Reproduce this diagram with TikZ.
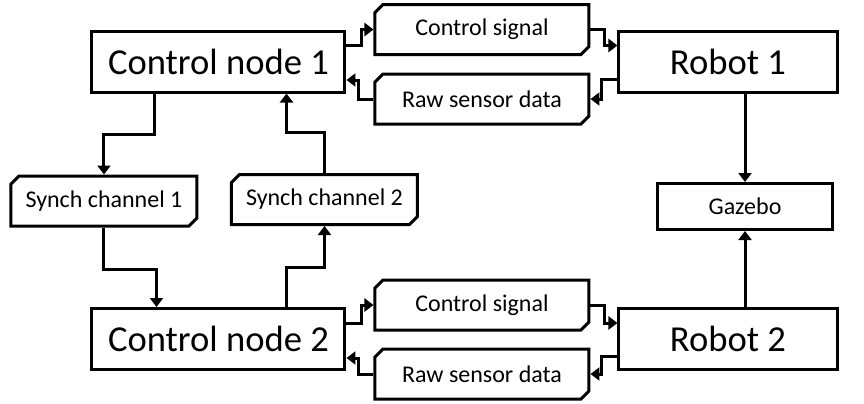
\documentclass[tikz,border=0pt]{standalone}
\usepackage{fontspec}
\setmainfont{Carlito}
\usetikzlibrary{positioning,shapes.misc,arrows.meta}

\begin{document}
\begin{tikzpicture}[>={Triangle[length=4.5pt,width=6.5pt]},line width=1.5pt,on grid,
  block/.style={draw,rectangle,minimum height=30.5pt,inner sep=0pt,font=\fontsize{18.3}{22}\selectfont},
  msg/.style={draw,chamfered rectangle,chamfered rectangle corners={north west,south east},
    chamfered rectangle xsep=2pt,chamfered rectangle ysep=2pt,inner sep=0pt,
    minimum width=107pt,minimum height=25pt,font=\fontsize{12}{14}\selectfont}]
  \useasboundingbox (-109.25pt,30.75pt) rectangle (322.75pt,-170.75pt);
  % main blocks
  \node[block,minimum width=126.5pt] (cn1) {Control node 1};
  \node[block,minimum width=126.5pt] (cn2) [below=138.75pt of cn1] {Control node 2};
  \node[block,minimum width=109pt] (robot1) [right=254.75pt of cn1] {Robot 1};
  \node[block,minimum width=109pt] (robot2) [right=254.75pt of cn2] {Robot 2};
  \node[block,minimum width=87pt,minimum height=23pt,font=\fontsize{12}{14}\selectfont] (gazebo)
    [below right=72.5pt and 8.5pt of robot1] {Gazebo};
  % messages
  \node[msg] (ctrl1) [above right=16pt and 131.75pt of cn1] {Control signal};
  \node[msg] (raw1) [below right=18.75pt and 131.75pt of cn1] {Raw sensor data};
  \node[msg] (ctrl2) [above right=17pt and 131.75pt of cn2] {Control signal};
  \node[msg] (raw2) [below right=17.5pt and 131.75pt of cn2] {Raw sensor data};
  \node[msg,minimum width=93pt] (synch1) [below left=69.75pt and 57.25pt of cn1] {Synch channel 1};
  \node[msg,minimum width=93pt] (synch2) [below right=69pt and 53pt of cn1] {Synch channel 2};
  % top row
  \draw[->] ([yshift=8.25pt]cn1.east) -- ++(7.5pt,0) |- (ctrl1.west);
  \draw[->] (raw1.west) -- ++(-7.5pt,0) |- ([yshift=-9.25pt]cn1.east);
  \draw[->] (ctrl1.east) -- ++(7pt,0) |- ([yshift=8pt]robot1.west);
  \draw[->] ([yshift=-9pt]robot1.west) -- ++(-8pt,0) |- (raw1.east);
  % bottom row
  \draw[->] ([yshift=8pt]cn2.east) -- ++(7.5pt,0) |- (ctrl2.west);
  \draw[->] (raw2.west) -- ++(-7.5pt,0) |- ([yshift=-9.5pt]cn2.east);
  \draw[->] (ctrl2.east) -- ++(7pt,0) |- ([yshift=8pt]robot2.west);
  \draw[->] ([yshift=-8.5pt]robot2.west) -- ++(-8pt,0) |- (raw2.east);
  % synch channels
  \draw[->] ([xshift=-32pt]cn1.south) -- ++(0,-20.5pt) -| (synch1.north);
  \draw[->] (synch2.north) -- ++(0,20.5pt) -| ([xshift=34pt]cn1.south);
  \draw[->] (synch1.south) -- ++(0,-21pt) -| ([xshift=-31pt]cn2.north);
  \draw[->] ([xshift=34pt]cn2.north) -- ++(0,20pt) -| (synch2.south);
  % simulator
  \draw[->] (gazebo.north |- robot1.south) -- (gazebo.north);
  \draw[->] (gazebo.south |- robot2.north) -- (gazebo.south);
\end{tikzpicture}
\end{document}
